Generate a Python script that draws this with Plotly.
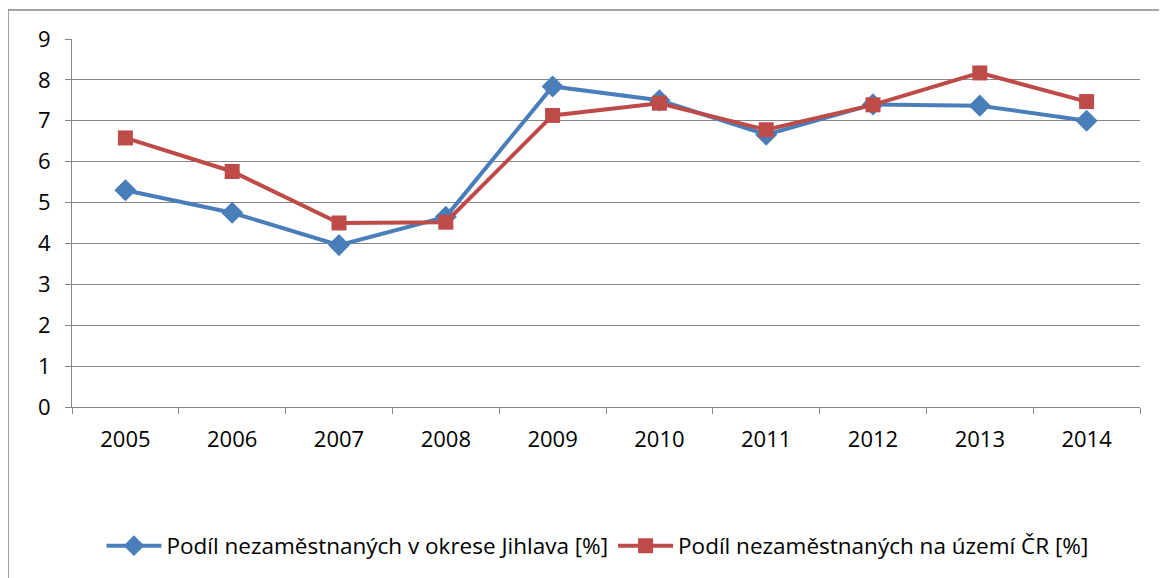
import plotly.graph_objects as go

years = ["2005", "2006", "2007", "2008", "2009", "2010", "2011", "2012", "2013", "2014"]
jihlava = [5.30, 4.75, 3.96, 4.65, 7.84, 7.50, 6.66, 7.40, 7.37, 7.00]
cr = [6.58, 5.76, 4.50, 4.52, 7.13, 7.43, 6.78, 7.39, 8.17, 7.47]
name_j = "Podíl nezaměstnaných v okrese Jihlava [%]"
name_c = "Podíl nezaměstnaných na území ČR [%]"

FONT = "Open Sans, Noto Sans, Liberation Sans, sans-serif"

W, H = 1159, 570
L, R, T, B = 64, 27, 31, 170
pw = W - L - R
ph = H - T - B

fig = go.Figure()
fig.add_trace(go.Scatter(x=years, y=jihlava, name=name_j, mode="lines+markers",
                         line=dict(color="#4a7ebb", width=4),
                         marker=dict(symbol="diamond", size=17, color="#4a7ebb")))
fig.add_trace(go.Scatter(x=years, y=cr, name=name_c, mode="lines+markers",
                         line=dict(color="#be4b48", width=4),
                         marker=dict(symbol="square", size=15, color="#be4b48")))

bx = (0 - L) / pw
by = (H - 2 - B) / ph

fig.update_layout(
    width=W, height=H,
    margin=dict(l=L, r=R, t=T, b=B),
    paper_bgcolor="white", plot_bgcolor="white",
    font=dict(family=FONT, size=22, color="#000000"),
    showlegend=True,
    legend=dict(orientation="h", x=0.492, xanchor="center", y=-0.374, yanchor="middle",
                font=dict(size=22.5), tracegroupgap=0, itemwidth=55),
    xaxis=dict(type="category", range=[-0.5, len(years) - 0.5], autorange=False,
               showgrid=False, showline=True, linecolor="#868686",
               linewidth=1, ticks="outside", tickson="boundaries", ticklen=6,
               tickcolor="#868686", zeroline=False, ticklabelstandoff=13),
    yaxis=dict(range=[0, 9], dtick=1, showgrid=True, gridcolor="#868686", gridwidth=1,
               showline=True, linecolor="#868686", ticks="outside", ticklen=6,
               tickcolor="#868686", zeroline=False, ticklabelstandoff=10),
    shapes=[
        dict(type="line", xref="paper", yref="paper", x0=bx, x1=bx, y0=-2, y1=by,
             line=dict(color="#868686", width=1.5)),
        dict(type="line", xref="paper", yref="paper", x0=bx, x1=2, y0=by, y1=by,
             line=dict(color="#868686", width=1.5)),
    ],
)

fig.write_html("out.html")
